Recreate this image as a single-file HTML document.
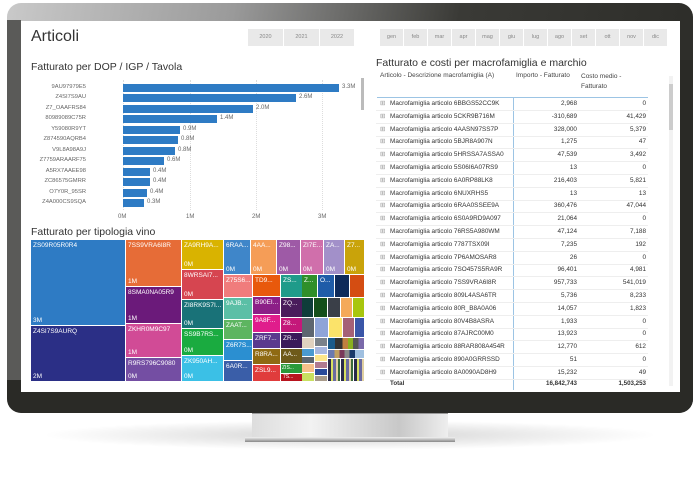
<!DOCTYPE html>
<html><head><meta charset="utf-8"><style>
*{margin:0;padding:0;box-sizing:border-box}
body{width:700px;height:487px;background:#fff;position:relative;overflow:hidden;font-family:"Liberation Sans",sans-serif}
.a{position:absolute}
.t{position:absolute;font-size:6.5px;color:#fff;padding:2px 2px;white-space:nowrap;overflow:hidden}
.t b{position:absolute;left:2px;bottom:1px;font-weight:normal}
.bl{position:absolute;font-size:5.8px;color:#666;text-align:right;width:70px;left:16px}
.bar{position:absolute;left:123px;height:8px;background:#2e7bc4}
.bv{position:absolute;font-size:6px;color:#666}
.btn{position:absolute;top:29px;height:17px;background:#e9e9e9;font-size:5.5px;color:#888;text-align:center;line-height:17px}
.row{position:absolute;left:376px;width:272px;height:13px;border-bottom:1px solid #eee;font-size:6.4px;color:#333;line-height:12px}
.row span{position:absolute}
</style></head><body>
<div class="a" style="left:40px;top:420px;width:620px;height:30px;border-radius:50%;background:radial-gradient(ellipse at center,rgba(0,0,0,.18),rgba(0,0,0,0) 70%)"></div>
<div class="a" style="left:252px;top:412px;width:196px;height:27px;background:linear-gradient(90deg,#ddd,#f2f2f2 30%,#c8c8c8 75%,#eee);border-top:2px solid #999"></div>
<div class="a" style="left:245px;top:437px;width:210px;height:5px;background:linear-gradient(#f4f4f4,#888)"></div>
<div class="a" style="left:7px;top:3px;width:686px;height:410px;border-radius:14px;background:linear-gradient(100deg,#c9c9c9 0%,#9a9a9a 30%,#3a3a36 60%,#2a2a26 100%)"></div>
<div class="a" style="left:7px;top:60px;width:686px;height:353px;border-radius:0 0 14px 14px;background:#2a2a26"></div>
<div class="a" style="left:7px;top:20px;width:14px;height:360px;background:#5a5a58"></div>
<div class="a" style="left:21px;top:21px;width:659px;height:371px;background:#fff"></div>
<div class="a" style="left:31px;top:28px;font-size:16px;color:#333">Articoli</div>
<div class="btn" style="left:248px;width:35px">2020</div>
<div class="btn" style="left:284px;width:35px">2021</div>
<div class="btn" style="left:320px;width:34px">2022</div>
<div class="btn" style="left:380px;width:23px">gen</div><div class="btn" style="left:404px;width:23px">feb</div><div class="btn" style="left:428px;width:23px">mar</div><div class="btn" style="left:452px;width:23px">apr</div><div class="btn" style="left:476px;width:23px">mag</div><div class="btn" style="left:500px;width:23px">giu</div><div class="btn" style="left:524px;width:23px">lug</div><div class="btn" style="left:548px;width:23px">ago</div><div class="btn" style="left:572px;width:23px">set</div><div class="btn" style="left:596px;width:23px">ott</div><div class="btn" style="left:620px;width:23px">nov</div><div class="btn" style="left:644px;width:23px">dic</div>
<div class="a" style="left:31px;top:61px;font-size:10.5px;color:#333">Fatturato per DOP / IGP / Tavola</div>
<div class="a" style="left:361px;top:78px;width:3px;height:32px;background:#bbb"></div>
<div class="a" style="left:123px;top:80px;height:130px;border-left:1px dotted #ddd"></div>
<div class="a" style="left:190px;top:80px;height:130px;border-left:1px dotted #ddd"></div>
<div class="a" style="left:256px;top:80px;height:130px;border-left:1px dotted #ddd"></div>
<div class="a" style="left:322px;top:80px;height:130px;border-left:1px dotted #ddd"></div>
<div class="bl" style="top:84px">9AU97979E5</div><div class="bar" style="top:84px;width:216px"></div><div class="bv" style="top:84px;left:342px">3.3M</div>
<div class="bl" style="top:94px">Z4SI7S9AU</div><div class="bar" style="top:94px;width:173px"></div><div class="bv" style="top:94px;left:299px">2.6M</div>
<div class="bl" style="top:105px">Z7_OAAFRS84</div><div class="bar" style="top:105px;width:130px"></div><div class="bv" style="top:105px;left:256px">2.0M</div>
<div class="bl" style="top:115px">80989089C75R</div><div class="bar" style="top:115px;width:94px"></div><div class="bv" style="top:115px;left:220px">1.4M</div>
<div class="bl" style="top:126px">Y59080R9YT</div><div class="bar" style="top:126px;width:57px"></div><div class="bv" style="top:126px;left:183px">0.9M</div>
<div class="bl" style="top:136px">Z874590AQRB4</div><div class="bar" style="top:136px;width:55px"></div><div class="bv" style="top:136px;left:181px">0.8M</div>
<div class="bl" style="top:147px">V9L8A98A9J</div><div class="bar" style="top:147px;width:52px"></div><div class="bv" style="top:147px;left:178px">0.8M</div>
<div class="bl" style="top:157px">Z7759ARAARF75</div><div class="bar" style="top:157px;width:41px"></div><div class="bv" style="top:157px;left:167px">0.6M</div>
<div class="bl" style="top:168px">A5RX7AAEE98</div><div class="bar" style="top:168px;width:27px"></div><div class="bv" style="top:168px;left:153px">0.4M</div>
<div class="bl" style="top:178px">ZC86575GMRR</div><div class="bar" style="top:178px;width:27px"></div><div class="bv" style="top:178px;left:153px">0.4M</div>
<div class="bl" style="top:189px">O7Y0R_95SR</div><div class="bar" style="top:189px;width:24px"></div><div class="bv" style="top:189px;left:150px">0.4M</div>
<div class="bl" style="top:199px">Z4A000CS9SQA</div><div class="bar" style="top:199px;width:21px"></div><div class="bv" style="top:199px;left:147px">0.3M</div>
<div class="bv" style="top:214px;left:118px">0M</div><div class="bv" style="top:214px;left:186px">1M</div><div class="bv" style="top:214px;left:252px">2M</div><div class="bv" style="top:214px;left:318px">3M</div>
<div class="a" style="left:31px;top:226px;font-size:10.5px;color:#333">Fatturato per tipologia vino</div>
<div class="t" style="left:31px;top:240px;width:94px;height:85px;background:#2e7bc4">ZS09R05R0R4<b>3M</b></div>
<div class="t" style="left:31px;top:326px;width:94px;height:55px;background:#2b2f86">Z4SI7S9AURQ<b>2M</b></div>
<div class="t" style="left:126px;top:240px;width:55px;height:46px;background:#e66c37">7SS9VRA6I8R<b>1M</b></div>
<div class="t" style="left:126px;top:287px;width:55px;height:36px;background:#6b1a7a">8SMA0NA05R9<b>1M</b></div>
<div class="t" style="left:126px;top:324px;width:55px;height:33px;background:#d14b96">ZKHR0M9C97<b>1M</b></div>
<div class="t" style="left:126px;top:358px;width:55px;height:23px;background:#744ea3">R9RS796C9080<b>0M</b></div>
<div class="t" style="left:182px;top:240px;width:41px;height:29px;background:#d9b300">ZA9RH9A...<b>0M</b></div>
<div class="t" style="left:182px;top:270px;width:41px;height:29px;background:#d64550">8WRSAI7...<b>0M</b></div>
<div class="t" style="left:182px;top:300px;width:41px;height:28px;background:#197278">ZI8RK9S7I...<b>0M</b></div>
<div class="t" style="left:182px;top:329px;width:41px;height:26px;background:#1aab40">SS9B7RS...<b>0M</b></div>
<div class="t" style="left:182px;top:356px;width:41px;height:25px;background:#3bc0e6">ZK950AH...<b>0M</b></div>
<div class="t" style="left:224px;top:240px;width:26px;height:34px;background:#3f86c9">6RAA...<b>0M</b></div>
<div class="t" style="left:251px;top:240px;width:25px;height:34px;background:#f59d57">4AA...<b>0M</b></div>
<div class="t" style="left:277px;top:240px;width:23px;height:34px;background:#9e5aa6">Z98...<b>0M</b></div>
<div class="t" style="left:301px;top:240px;width:22px;height:34px;background:#d06fab">ZI7E...<b>0M</b></div>
<div class="t" style="left:324px;top:240px;width:20px;height:34px;background:#a290c9">ZA...<b>0M</b></div>
<div class="t" style="left:345px;top:240px;width:19px;height:34px;background:#c9a30a">Z7...<b>0M</b></div>
<div class="t" style="left:224px;top:275px;width:28px;height:22px;background:#f07c7c">Z75S6...</div>
<div class="t" style="left:224px;top:298px;width:28px;height:21px;background:#5bbfa6">9AJB...</div>
<div class="t" style="left:224px;top:320px;width:28px;height:19px;background:#5db560">ZAAT...</div>
<div class="t" style="left:224px;top:340px;width:28px;height:20px;background:#2b8fd1">Z6R7S...</div>
<div class="t" style="left:224px;top:361px;width:28px;height:20px;background:#3a5ea8">6A0R...</div>
<div class="t" style="left:253px;top:275px;width:27px;height:21px;background:#e8590c">TD9...</div>
<div class="t" style="left:253px;top:297px;width:27px;height:17px;background:#8c1f87">B90EI...</div>
<div class="t" style="left:253px;top:315px;width:27px;height:17px;background:#e01d8c">9A8F...</div>
<div class="t" style="left:253px;top:333px;width:27px;height:15px;background:#5a3a8e">ZRF7...</div>
<div class="t" style="left:253px;top:349px;width:27px;height:15px;background:#8f6a13">R8RA...</div>
<div class="t" style="left:253px;top:365px;width:27px;height:16px;background:#e03c3c">ZSL9...</div>
<div class="t" style="left:281px;top:275px;width:21px;height:22px;background:#1f9b8a">ZS...</div>
<div class="t" style="left:281px;top:298px;width:21px;height:19px;background:#4a1c5c">ZQ...</div>
<div class="t" style="left:281px;top:318px;width:21px;height:14px;background:#c4187a">Z8...</div>
<div class="t" style="left:281px;top:333px;width:21px;height:15px;background:#3a1a5a">ZR...</div>
<div class="t" style="left:281px;top:349px;width:21px;height:14px;background:#6e5a1a">AA...</div>
<div class="t" style="left:281px;top:364px;width:21px;height:9px;background:#2a9a3a;font-size:5px;padding:1px">ZIS...</div>
<div class="t" style="left:281px;top:374px;width:21px;height:7px;background:#b8141e;font-size:5px;padding:0 2px">7S...</div>
<div class="t" style="left:302px;top:275px;width:15px;height:22px;background:#2f8f2a">Z...</div>
<div class="t" style="left:318px;top:275px;width:16px;height:22px;background:#1f5ca8">O...</div>
<div class="a" style="left:335px;top:275px;width:14px;height:22px;background:#0e2a5a"></div>
<div class="a" style="left:350px;top:275px;width:14px;height:22px;background:#d44d12"></div>
<div class="a" style="left:302px;top:298px;width:11px;height:19px;background:#0f3d3a"></div>
<div class="a" style="left:314px;top:298px;width:13px;height:19px;background:#144f1a"></div>
<div class="a" style="left:328px;top:298px;width:12px;height:19px;background:#3a3f48"></div>
<div class="a" style="left:341px;top:298px;width:11px;height:19px;background:#f4a95a"></div>
<div class="a" style="left:353px;top:298px;width:11px;height:19px;background:#a8c60e"></div>
<div class="a" style="left:302px;top:318px;width:12px;height:19px;background:#5e6670"></div>
<div class="a" style="left:315px;top:318px;width:13px;height:19px;background:#8ea4d8"></div>
<div class="a" style="left:329px;top:318px;width:13px;height:19px;background:#fbe36a"></div>
<div class="a" style="left:343px;top:318px;width:11px;height:19px;background:#a56176"></div>
<div class="a" style="left:355px;top:318px;width:9px;height:19px;background:#3a56a8"></div>
<div class="a" style="left:302px;top:338px;width:12px;height:10px;background:#e0d2c0"></div>
<div class="a" style="left:302px;top:349px;width:12px;height:7px;background:#4a9ad0"></div>
<div class="a" style="left:302px;top:357px;width:12px;height:6px;background:#5e6670"></div>
<div class="a" style="left:302px;top:364px;width:12px;height:8px;background:#f8c08a"></div>
<div class="a" style="left:302px;top:373px;width:12px;height:8px;background:#c8e060"></div>
<div class="a" style="left:315px;top:338px;width:12px;height:8px;background:#7a828a"></div>
<div class="a" style="left:315px;top:347px;width:12px;height:7px;background:#a8b8e0"></div>
<div class="a" style="left:315px;top:355px;width:12px;height:6px;background:#fde68a"></div>
<div class="a" style="left:315px;top:362px;width:12px;height:6px;background:#b07a90"></div>
<div class="a" style="left:315px;top:369px;width:12px;height:6px;background:#2a4a9a"></div>
<div class="a" style="left:315px;top:376px;width:12px;height:5px;background:#a89a8a"></div>
<div class="a" style="left:328px;top:338px;width:36px;height:11px;background:linear-gradient(90deg,#1a5a8a 0 20%,#333 20% 40%,#c08040 40% 55%,#8ab020 55% 70%,#555 70% 85%,#7a6aaa 85%)"></div>
<div class="a" style="left:328px;top:350px;width:36px;height:8px;background:linear-gradient(90deg,#6a7ab0 0 18%,#c0a060 18% 32%,#7a3a5a 32% 46%,#8a8a8a 46% 60%,#1a3a6a 60% 75%,#a0c0e0 75%)"></div>
<div class="a" style="left:328px;top:359px;width:36px;height:22px;background:repeating-linear-gradient(90deg,#2a2a4a 0 3px,#d8e060 3px 5px,#6a6aa0 5px 8px,#e0d0a0 8px 10px,#3a6a3a 10px 12px,#fff 12px 13px)"></div>
<div class="a" style="left:376px;top:57px;font-size:10.5px;color:#333">Fatturato e costi per macrofamiglia e marchio</div>
<div class="a" style="left:380px;top:72px;font-size:6.5px;color:#444">Articolo - Descrizione macrofamiglia (A)</div>
<div class="a" style="left:516px;top:72px;font-size:6.5px;color:#444">Importo - Fatturato</div>
<div class="a" style="left:581px;top:72px;font-size:6.5px;color:#444;line-height:10px">Costo medio -<br>Fatturato</div>
<div class="a" style="left:377px;top:97px;width:271px;height:1px;background:#9cc4e4"></div>
<div class="a" style="left:513px;top:97px;width:1px;height:293px;background:#9cc4e4"></div>
<div class="a" style="left:669px;top:76px;width:4px;height:310px;background:#f2f2f2"></div>
<div class="a" style="left:669px;top:84px;width:4px;height:46px;background:#ccc"></div>
<div id="tb"></div>
<script>
var d=[["6BBGS52CC9K","2,968","0"],["5CKR9B716M","-310,689","41,429"],["4AASN97SS7P","328,000","5,379"],["5BJR8A907N","1,275","47"],["5HRSSA7ASSA0","47,539","3,492"],["5S06I6A07RS9","13","0"],["6A0RP88LK8","216,403","5,821"],["6NUXRHS5","13","13"],["6RAA0SSEE9A","360,476","47,044"],["6S0A9RD9A097","21,064","0"],["76RS5A980WM","47,124","7,188"],["7787TSX09I","7,235","192"],["7P6AMOSAR8","26","0"],["7SO457S5RA9R","96,401","4,981"],["7SS9VRA6I8R","957,733","541,019"],["809L4ASA6TR","5,736","8,233"],["80R_B8A0A06","14,057","1,823"],["80V4B8ASRA","1,933","0"],["87AJRC00M0","13,923","0"],["88RAR808A454R","12,770","612"],["890A0GRRSSD","51","0"],["8A0090AD8H9","15,232","49"]];
var h="";
d.forEach(function(r,i){var y=98+i*12.8;
h+='<div class="row" style="top:'+y+'px"><span style="left:4px;color:#999;font-size:6.5px">&#8862;</span><span style="left:14px">Macrofamiglia articolo '+r[0]+'</span><span style="right:71px">'+r[1]+'</span><span style="right:2px">'+r[2]+'</span></div>';});
h+='<div class="row" style="top:378px;border:none;font-weight:bold;font-size:6.2px"><span style="left:14px">Total</span><span style="right:71px">16,842,743</span><span style="right:2px">1,503,253</span></div>';
document.getElementById("tb").innerHTML=h;
</script>
</body></html>
